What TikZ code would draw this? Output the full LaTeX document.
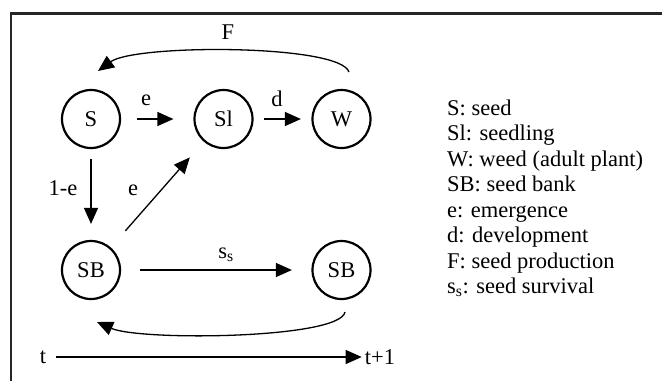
\documentclass[tikz,border=0pt]{standalone}
\usepackage{fontspec}
\setmainfont{Liberation Serif}
\usetikzlibrary{arrows.meta}
\begin{document}
\begin{tikzpicture}[x=1pt,y=-1pt,
  every node/.style={font=\fontsize{22.5}{25.5}\selectfont, inner sep=0pt},
  state/.style={circle, draw, line width=2.2pt, minimum size=58pt},
  conn/.style={line width=1.3pt, -{Triangle[length=16pt,width=14pt]}},
  frameline/.style={line width=2.4pt, black!85}]
\useasboundingbox (0,0) rectangle (662,381);
% frame
\coordinate (fa) at (11,381);
\coordinate (fb) at (11,13.5);
\coordinate (fc) at (662,13.5);
\draw[frameline] (fa) -- (fb) -- (fc);
% states
\node[state] (S)   at (91,119)    {S};
\node[state] (Sl)  at (223.5,119) {Sl};
\node[state] (W)   at (341.5,119) {W};
\node[state] (SB)  at (91,270)    {SB};
\node[state] (SB2) at (341.5,270) {SB};
% straight connectors
\draw[conn, shorten <=16pt, shorten >=20pt] (S) -- (Sl);
\draw[conn, shorten <=10.5pt, shorten >=10.5pt] (Sl) -- (W);
\draw[conn, shorten <=10pt, shorten >=16pt] (S) -- (SB);
\draw[conn, shorten <=22pt, shorten >=21pt] (SB) -- (Sl);
\draw[conn, shorten <=18.5pt, shorten >=19.5pt] (SB) -- (SB2);
% curved connectors
\coordinate (f1) at (349,72);
\coordinate (f2) at (98,71);
\draw[conn] (f1) .. controls (340,44) and (135,44) .. (f2);
\coordinate (b1) at (345,312);
\coordinate (b2) at (97,322);
\draw[conn] (b1) .. controls (340,339) and (140,341) .. (b2);
% time axis
\node (t)  at (43,357)  {t};
\node (t1) at (380,357) {t+1};
\draw[conn, shorten <=10pt, shorten >=3pt] (t) -- (t1);
% labels
\node (le)  at (146,100) {e};
\node (ld)  at (277,99)  {d};
\node (lF)  at (228,32)  {F};
\node (l1e) at (63,188)  {1-e};
\node (le2) at (133,190) {e};
\node (lss) at (226,255) {s\textsubscript{s}};
% legend
\foreach \txt [count=\i] in {S: seed, Sl: seedling, W: weed (adult plant), SB: seed bank, e: emergence, d: development, F: seed production, s\textsubscript{s}: seed survival}
  \node[anchor=base west] (leg\i) at (447,{115+25.5*(\i-1)}) {\txt};
\end{tikzpicture}
\end{document}
